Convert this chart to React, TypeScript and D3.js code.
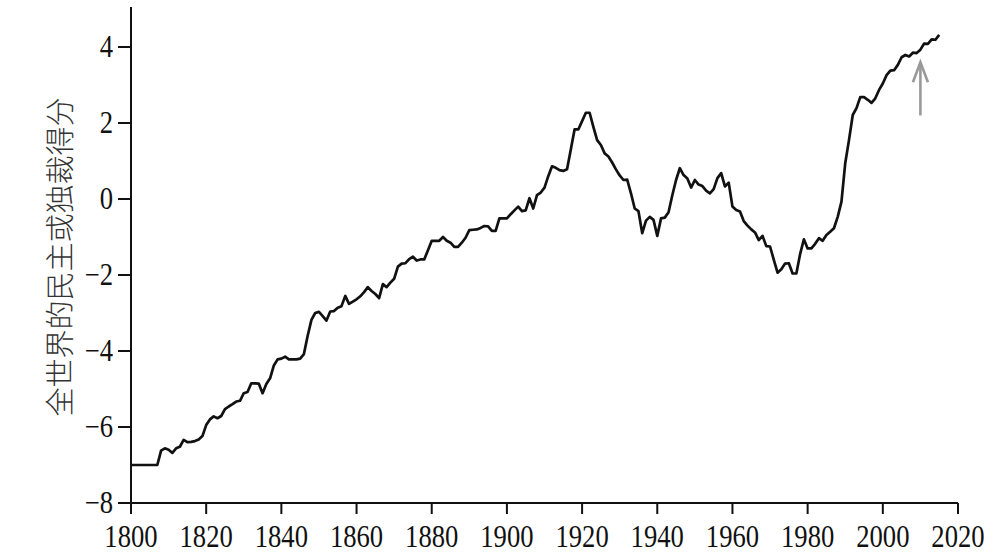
import React from "react";
import * as d3 from "d3";

const startYear = 1800;
const scores: number[] = [
  // 1800-1809
  -7.0, -7.0, -7.0, -7.0, -7.0, -7.0, -7.0, -7.0, -6.62, -6.56,
  // 1810-1819
  -6.6, -6.68, -6.56, -6.52, -6.34, -6.4, -6.39, -6.37, -6.33, -6.24,
  // 1820-1829
  -5.95, -5.8, -5.72, -5.77, -5.71, -5.53, -5.46, -5.4, -5.33, -5.31,
  // 1830-1839
  -5.11, -5.08, -4.85, -4.85, -4.86, -5.11, -4.87, -4.72, -4.38, -4.22,
  // 1840-1849
  -4.2, -4.15, -4.22, -4.22, -4.22, -4.2, -4.08, -3.6, -3.18, -3.0,
  // 1850-1859
  -2.97, -3.08, -3.2, -2.96, -2.95, -2.86, -2.82, -2.55, -2.76, -2.7,
  // 1860-1869
  -2.64, -2.56, -2.45, -2.32, -2.42, -2.5, -2.61, -2.24, -2.32, -2.2,
  // 1870-1879
  -2.1, -1.78, -1.7, -1.69, -1.58, -1.52, -1.62, -1.59, -1.59, -1.35,
  // 1880-1889
  -1.1, -1.1, -1.1, -1.0, -1.1, -1.15, -1.26, -1.26, -1.15, -1.02,
  // 1890-1899
  -0.82, -0.81, -0.8, -0.76, -0.71, -0.72, -0.84, -0.84, -0.51, -0.51,
  // 1900-1909
  -0.51, -0.4, -0.3, -0.2, -0.32, -0.3, 0.02, -0.25, 0.1, 0.17,
  // 1910-1919
  0.3, 0.6, 0.86, 0.82, 0.76, 0.74, 0.78, 1.3, 1.83, 1.83,
  // 1920-1929
  2.05, 2.27, 2.27, 1.9, 1.55, 1.42, 1.2, 1.12, 0.96, 0.78,
  // 1930-1939
  0.62, 0.5, 0.51, 0.15, -0.25, -0.32, -0.9, -0.57, -0.47, -0.55,
  // 1940-1949
  -0.97, -0.51, -0.49, -0.35, 0.1, 0.5, 0.81, 0.63, 0.54, 0.3,
  // 1950-1959
  0.5, 0.38, 0.34, 0.22, 0.15, 0.26, 0.55, 0.68, 0.33, 0.43,
  // 1960-1969
  -0.2, -0.29, -0.33, -0.58, -0.7, -0.8, -0.88, -1.08, -0.97, -1.24,
  // 1970-1979
  -1.25, -1.6, -1.94, -1.85, -1.7, -1.69, -1.96, -1.96, -1.45, -1.06,
  // 1980-1989
  -1.3, -1.3, -1.18, -1.03, -1.1, -0.95, -0.86, -0.77, -0.47, -0.07,
  // 1990-1999
  0.94, 1.55, 2.21, 2.39, 2.68, 2.68, 2.61, 2.53, 2.65, 2.87,
  // 2000-2009
  3.04, 3.26, 3.38, 3.39, 3.53, 3.73, 3.79, 3.75, 3.85, 3.84,
  // 2010-2015
  3.93, 4.09, 4.08, 4.2, 4.19, 4.32,
];

const xTicks = [1800, 1820, 1840, 1860, 1880, 1900, 1920, 1940, 1960, 1980, 2000, 2020];
const yTicks = [-8, -6, -4, -2, 0, 2, 4];
const yTitle = "全世界的民主或独裁得分";
const arrowYear = 2010;
const arrowFrom = 2.2;
const arrowTo = 3.6;

export default function App() {
  const x = d3.scaleLinear().domain([1800, 2020]).range([131, 958]);
  const y = d3.scaleLinear().domain([-8, 4]).range([503, 47]);
  const data = scores.map((v, i) => ({ year: startYear + i, v }));
  const line = d3
    .line<{ year: number; v: number }>()
    .x((d) => x(d.year))
    .y((d) => y(d.v));
  const fmt = (n: number) => (n < 0 ? "\u2212" + Math.abs(n) : String(n));
  const serif = "'Liberation Serif', 'Times New Roman', serif";
  const ax = x(arrowYear);
  return (
    <svg
      width={1000}
      height={560}
      style={{ position: "absolute", left: 0, top: 0, background: "#fff" }}
    >
      <rect width={1000} height={560} fill="#fff" />
      {/* y axis */}
      <line x1={131} x2={131} y1={7} y2={y(-8)} stroke="#111" strokeWidth={2} />
      {yTicks.map((t) => (
        <g key={t}>
          <line x1={118} x2={131} y1={y(t)} y2={y(t)} stroke="#111" strokeWidth={2} />
          <text
            transform={`translate(113,${y(t) + 10}) scale(0.86,1)`}
            textAnchor="end"
            fontFamily={serif}
            fontSize={31}
            fill="#111"
          >
            {fmt(t)}
          </text>
        </g>
      ))}
      {/* x axis */}
      <line x1={x(1800)} x2={x(2020)} y1={y(-8)} y2={y(-8)} stroke="#111" strokeWidth={2} />
      {xTicks.map((t) => (
        <g key={t}>
          <line x1={x(t)} x2={x(t)} y1={y(-8)} y2={y(-8) + 11} stroke="#111" strokeWidth={2} />
          <text
            transform={`translate(${x(t)},${y(-8) + 44}) scale(0.86,1)`}
            textAnchor="middle"
            fontFamily={serif}
            fontSize={31}
            fill="#111"
          >
            {t}
          </text>
        </g>
      ))}
      {/* y title */}
      <text
        transform={`translate(71,${257}) rotate(-90)`}
        textAnchor="middle"
        fontFamily="'Noto Sans CJK SC', sans-serif"
        fontWeight={300}
        fontSize={29}
        fill="#333"
      >
        {yTitle}
      </text>
      {/* data line */}
      <path d={line(data) ?? ""} fill="none" stroke="#111" strokeWidth={2.7} strokeLinejoin="round" />
      {/* arrow */}
      <g stroke="#999" strokeWidth={2.6} fill="none">
        <line x1={ax} x2={ax} y1={y(arrowFrom)} y2={y(arrowTo)} />
        <polyline
          points={`${ax - 7.5},${y(arrowTo) + 20} ${ax},${y(arrowTo)} ${ax + 7.5},${y(arrowTo) + 20}`}
        />
      </g>
    </svg>
  );
}
